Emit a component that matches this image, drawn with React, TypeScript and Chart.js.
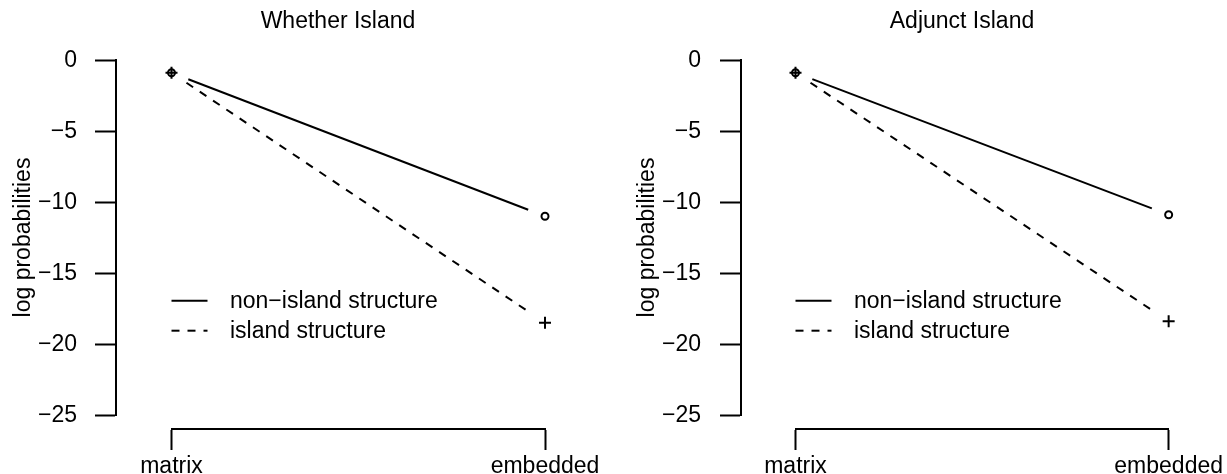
import React, { useEffect, useRef } from 'react';
import { Chart, registerables } from 'chart.js';

Chart.register(...registerables);

// ---- data ----
const categories = ['matrix', 'embedded'];
const xPositions = [1, 2];
const yTickValues = [0, -5, -10, -15, -20, -25];
const seriesNames = ['non\u2212island structure', 'island structure'];
const whetherNonIsland = [-0.9, -11.0];
const whetherIsland = [-0.9, -18.5];
const adjunctNonIsland = [-0.9, -10.9];
const adjunctIsland = [-0.9, -18.4];
const panelTitles = ['Whether Island', 'Adjunct Island'];
const yAxisTitle = 'log probabilities';

// ---- style ----
const FONT = '"Liberation Sans", Arial, Helvetica, sans-serif';
const FS = 23;
const H = 474;
const GAP = 18;

const fmt = (v: number) => (v < 0 ? '\u2212' + Math.abs(v) : String(v));

const decorPlugin = {
  id: 'panelDecor',
  beforeDatasetsDraw(chart: any) {
    const ctx = chart.ctx;
    chart.data.datasets.forEach((ds: any, i: number) => {
      const pts = chart.getDatasetMeta(i).data;
      ctx.save();
      ctx.strokeStyle = '#000';
      ctx.lineWidth = 2;
      ctx.lineCap = 'butt';
      ctx.setLineDash(ds.borderDash || []);
      for (let k = 0; k < pts.length - 1; k++) {
        const a = pts[k];
        const b = pts[k + 1];
        const dx = b.x - a.x;
        const dy = b.y - a.y;
        const len = Math.hypot(dx, dy);
        if (len <= 2 * GAP) continue;
        const ux = dx / len;
        const uy = dy / len;
        ctx.beginPath();
        ctx.moveTo(a.x + ux * GAP, a.y + uy * GAP);
        ctx.lineTo(b.x - ux * GAP, b.y - uy * GAP);
        ctx.stroke();
      }
      ctx.restore();
    });
  },
  afterDraw(chart: any, _args: any, opts: any) {
    const ctx = chart.ctx;
    const xs = chart.scales.x;
    const ys = chart.scales.y;
    const area = chart.chartArea;
    ctx.save();
    ctx.fillStyle = '#000';
    ctx.font = `${FS}px ${FONT}`;
    // title
    ctx.textAlign = 'center';
    ctx.textBaseline = 'alphabetic';
    ctx.fillText(opts.title, opts.titleX, opts.titleY);
    // y tick labels (from the y scale's own ticks)
    const axisPx = xs.getPixelForValue(opts.yAxisAt);
    ctx.textAlign = 'right';
    ctx.textBaseline = 'middle';
    ys.ticks.forEach((t: any) => {
      ctx.fillText(fmt(t.value), axisPx - 39.5, ys.getPixelForValue(t.value) + 1);
    });
    // y axis title
    ctx.save();
    ctx.translate(axisPx - 86.5, (area.top + area.bottom) / 2);
    ctx.rotate(-Math.PI / 2);
    ctx.textAlign = 'center';
    ctx.textBaseline = 'alphabetic';
    ctx.fillText(yAxisTitle, 0, 0);
    ctx.restore();
    // legend
    const lx = xs.getPixelForValue(1);
    const ly = ys.getPixelForValue(opts.legendY);
    chart.data.datasets.forEach((ds: any, i: number) => {
      const y = ly + i * 30;
      ctx.save();
      ctx.strokeStyle = '#000';
      ctx.lineWidth = 2;
      ctx.setLineDash(ds.borderDash || []);
      ctx.beginPath();
      ctx.moveTo(lx, y);
      ctx.lineTo(lx + 36, y);
      ctx.stroke();
      ctx.restore();
      ctx.textAlign = 'left';
      ctx.textBaseline = 'alphabetic';
      ctx.fillText(ds.label, lx + 58.5, y + 7);
    });
    ctx.restore();
  },
};

function makeConfig(title: string, nonIsland: number[], island: number[], width: number, yAxisAt: number): any {
  return {
    type: 'scatter',
    data: {
      datasets: [
        {
          label: seriesNames[0],
          data: xPositions.map((x, i) => ({ x, y: nonIsland[i] })),
          pointStyle: 'circle',
          pointRadius: 3.5,
          pointBorderWidth: 2,
          pointBorderColor: '#000',
          pointBackgroundColor: 'rgba(0,0,0,0)',
          borderColor: '#000',
          borderDash: [],
          showLine: false,
          clip: false,
        },
        {
          label: seriesNames[1],
          data: xPositions.map((x, i) => ({ x, y: island[i] })),
          pointStyle: 'cross',
          pointRadius: 6,
          pointBorderWidth: 2,
          pointBorderColor: '#000',
          pointBackgroundColor: 'rgba(0,0,0,0)',
          borderColor: '#000',
          borderDash: [8, 8],
          showLine: false,
          clip: false,
        },
      ],
    },
    options: {
      responsive: false,
      animation: false,
      events: [],
      layout: { padding: { left: 171.5, right: width - 545, top: 60, bottom: H - 415 } },
      plugins: {
        legend: { display: false },
        tooltip: { enabled: false },
        title: { display: false },
        panelDecor: { title, titleX: 338, titleY: 28, yAxisAt, legendY: -16.95 },
      },
      scales: {
        x: {
          type: 'linear',
          min: 1,
          max: 2,
          position: { y: -26 },
          afterBuildTicks: (s: any) => {
            s.ticks = xPositions.map((v) => ({ value: v }));
          },
          ticks: {
            autoSkip: false,
            maxRotation: 0,
            minRotation: 0,
            padding: 4,
            color: '#000',
            font: { family: FONT, size: FS },
            callback: (v: number) => categories[xPositions.indexOf(v)] ?? '',
          },
          grid: {
            drawOnChartArea: false,
            drawTicks: true,
            tickLength: 20,
            tickWidth: 2,
            tickColor: '#000',
          },
          border: { display: true, color: '#000', width: 2 },
        },
        y: {
          type: 'linear',
          min: -25,
          max: 0,
          position: { x: yAxisAt },
          afterBuildTicks: (s: any) => {
            s.ticks = yTickValues.map((v) => ({ value: v }));
          },
          ticks: {
            display: false,
            autoSkip: false,
          },
          grid: {
            drawOnChartArea: false,
            drawTicks: true,
            tickLength: 20,
            tickWidth: 2,
            tickColor: '#000',
          },
          border: { display: true, color: '#000', width: 2 },
        },
      },
    },
    plugins: [decorPlugin],
  };
}

function Panel(props: { left: number; width: number; title: string; nonIsland: number[]; island: number[] }) {
  const ref = useRef<HTMLCanvasElement | null>(null);
  useEffect(() => {
    if (!ref.current) return;
    const yAxisAt = 1 - 55 / 373.5;
    const chart = new Chart(ref.current, makeConfig(props.title, props.nonIsland, props.island, props.width, yAxisAt));
    return () => chart.destroy();
  }, []);
  return (
    <canvas
      ref={ref}
      width={props.width}
      height={H}
      style={{ position: 'absolute', left: props.left, top: 0, width: props.width, height: H, display: 'block' }}
    />
  );
}

export default function App() {
  return (
    <div style={{ position: 'fixed', left: 0, top: 0, width: 1227, height: H, background: '#fff', overflow: 'hidden' }}>
      <Panel left={0} width={624} title={panelTitles[0]} nonIsland={whetherNonIsland} island={whetherIsland} />
      <Panel left={624} width={603} title={panelTitles[1]} nonIsland={adjunctNonIsland} island={adjunctIsland} />
    </div>
  );
}
